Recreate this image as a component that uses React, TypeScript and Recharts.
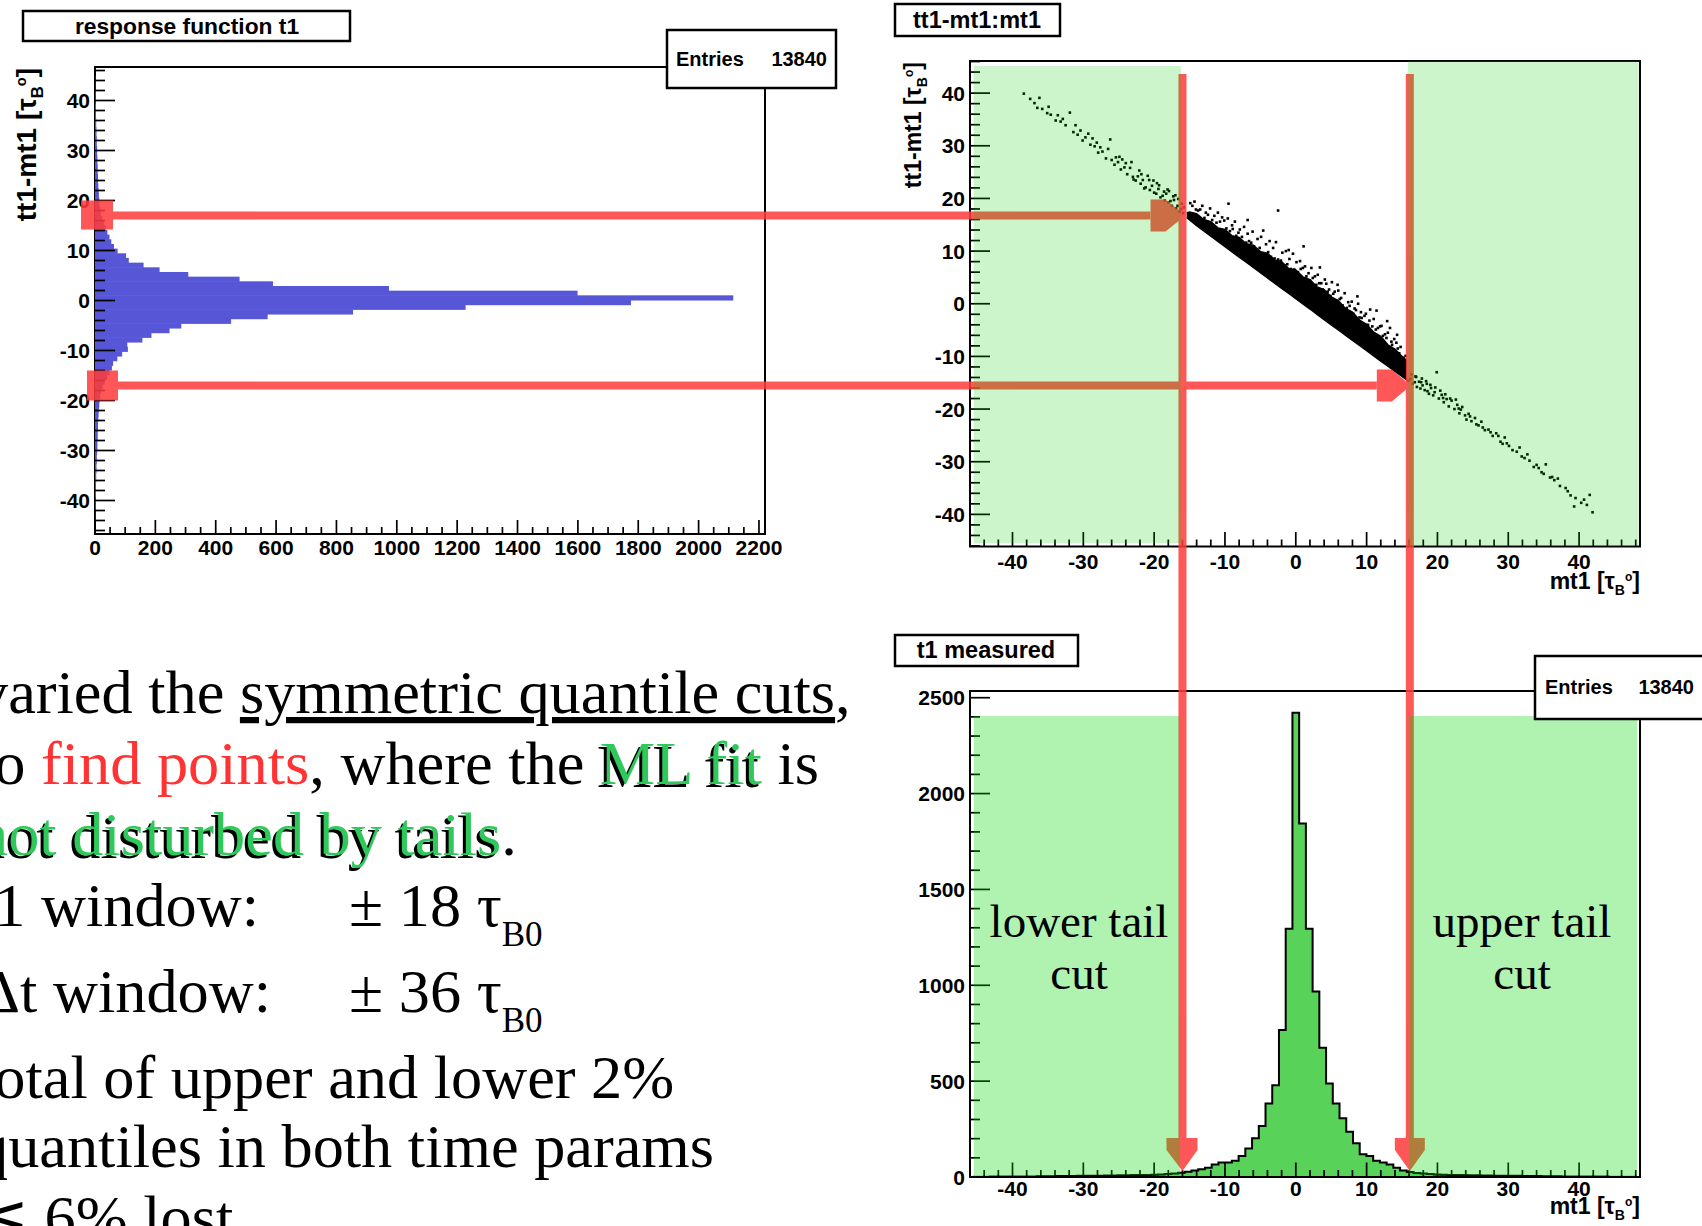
import React from 'react';
import { ComposedChart, Bar, Area, Scatter, XAxis, YAxis, ReferenceArea } from 'recharts';

// ---------- response function t1 : counts of (tt1 - mt1), bins of 0.934 over [-46.7, 46.7]
const RESP_RANGE: [number, number] = [-46.7, 46.7];
const RESP_BIN_WIDTH = 0.934;
// counts walking outward from zero
const respBelowZero = [
  1776, 1228, 855, 572, 451, 286, 247, 187, 157, 107,
  109, 90, 74, 60, 56, 48, 40, 32, 25, 20,
  17, 15, 14, 13, 12, 11, 10, 10, 9, 9,
  8, 8, 7, 6, 6, 5, 5, 4, 4, 3,
  3, 3, 2, 2, 2, 1, 1, 1, 0, 0,
];
const respAboveZero = [
  2115, 1599, 974, 590, 479, 309, 214, 161, 112, 103,
  75, 63, 54, 48, 41, 35, 30, 24, 20, 17,
  15, 14, 13, 12, 11, 10, 10, 9, 9, 8,
  8, 7, 7, 6, 6, 5, 5, 4, 4, 3,
  3, 3, 2, 2, 2, 1, 1, 1, 0, 0,
];
const COUNT_MAX = 2220;
const countMajors = [0, 200, 400, 600, 800, 1000, 1200, 1400, 1600, 1800, 2000, 2200];
const residualMajors = [-40, -30, -20, -10, 0, 10, 20, 30, 40];

// ---------- t1 measured : bins of 0.95 centred on multiples of 0.95
const MEAS_BIN_WIDTH = 0.95;
const measBelowZero = [
  1295, 767, 478, 383, 266, 202, 149, 109, 85, 75,
  75, 65, 48, 40, 34, 28, 22, 18, 15, 13,
  12, 11, 10, 10, 9, 9, 8, 8, 7, 7,
  6, 6, 5, 5, 5, 4, 4, 4, 3, 3,
  3, 2, 2, 2, 2, 1, 1, 1,
];
const measFromZero = [
  2421, 1844, 1295, 968, 674, 488, 383, 307, 236, 176,
  119, 109, 85, 75, 65, 48, 34, 26, 21, 18,
  15, 13, 12, 11, 10, 10, 9, 9, 8, 8,
  7, 7, 6, 6, 5, 5, 5, 4, 4, 4,
  3, 3, 3, 2, 2, 2, 2, 1, 1, 1,
  1, 0,
];
const MEAS_MAX = 2535;
const measMajors = [0, 500, 1000, 1500, 2000, 2500];

// ---------- tt1-mt1 vs mt1
const MT1_RANGE: [number, number] = [-46, 48.6];
const RESID_RANGE: [number, number] = [-46.1, 46.1];
const mt1Majors = [-40, -30, -20, -10, 0, 10, 20, 30, 40];
// dense core of the correlation: lower / upper edge of the solid band
const coreMt1 = [
  -15.4, -15, -14, -13, -12, -11, -10, -9, -8, -7, -6, -5, -4, -3, -2, -1, 0,
  1, 2, 3, 4, 5, 6, 7, 8, 9, 10, 11, 12, 13, 14, 15, 15.7,
];
const coreLow = [
  16.4, 15.9, 14.85, 13.85, 12.85, 11.85, 10.85, 9.85, 8.85, 7.9, 6.9, 5.9, 4.9, 3.9, 2.9, 1.95, 0.95,
  -0.05, -1.0, -2.0, -3.0, -4.0, -4.95, -5.95, -6.95, -7.9, -8.9, -9.9, -10.9, -11.85, -12.85, -13.8, -14.5,
];
const coreHigh = [
  17.3, 17.4, 17.1, 16.0, 15.6, 14.4, 14.1, 12.9, 12.6, 11.4, 11.1, 9.9, 9.6, 8.3, 8.0, 6.7, 6.4,
  5.1, 4.6, 3.2, 2.7, 1.3, 0.6, -0.9, -1.6, -3.1, -3.9, -5.4, -6.2, -7.8, -8.6, -10.0, -10.8,
];
// individual entries around the core and in both tails [mt1, tt1-mt1]
const sparseEntries: [number, number][] = [
  // upper-left tail
  [-38.4, 39.9], [-37.5, 38.9], [-36.9, 38.1], [-36.5, 37.2], [-36.2, 39.1], [-35.8, 37.0],
  [-35.1, 36.2], [-34.9, 37.4], [-34.6, 35.9], [-33.9, 34.8], [-33.6, 35.8], [-33.2, 34.6],
  [-32.9, 35.1], [-32.5, 33.9], [-31.9, 36.3], [-31.4, 32.6], [-31.1, 33.9], [-30.8, 32.1],
  [-30.4, 32.9], [-30.1, 31.0], [-29.7, 31.6], [-29.3, 32.3], [-29.0, 30.2], [-28.7, 31.4],
  [-28.4, 29.9], [-28.1, 30.6], [-27.9, 28.7], [-27.6, 29.7], [-27.3, 28.9], [-26.8, 27.6],
  [-26.5, 29.4], [-26.2, 31.2], [-26.0, 27.3], [-25.6, 26.4], [-25.4, 27.8], [-25.1, 26.9],
  [-24.9, 27.9], [-24.7, 25.5], [-24.5, 27.4], [-24.2, 25.9], [-24.0, 26.7], [-23.8, 24.6],
  [-23.4, 25.8], [-23.2, 26.9], [-23.0, 24.1], [-22.9, 23.6], [-22.6, 23.4], [-22.3, 24.2],
  [-22.1, 25.3], [-21.9, 22.8], [-21.8, 24.6], [-21.6, 23.5], [-21.4, 21.9], [-21.2, 22.1],
  [-20.9, 24.3], [-20.7, 23.5], [-20.6, 21.6], [-20.3, 22.4], [-20.1, 23.4], [-20.0, 21.1],
  [-19.7, 20.9], [-19.6, 22.9], [-19.4, 21.8], [-19.3, 22.5], [-19.1, 20.2], [-18.8, 20.5],
  [-18.6, 21.3], [-18.5, 19.6], [-18.3, 20.9], [-18.1, 21.7], [-18.0, 19.2], [-17.9, 21.4],
  [-17.7, 19.5], [-17.5, 18.6], [-17.3, 20.4], [-17.2, 19.7], [-17.0, 20.6], [-16.9, 18.1],
  [-16.7, 18.6], [-16.6, 19.9], [-16.4, 17.5], [-16.2, 18.0], [-16.1, 19.0], [-15.9, 17.2],
  [-15.8, 18.3],
  // fringe above the dense core
  [-14.9, 19.1], [-14.6, 18.6], [-14.3, 19.4], [-14.1, 17.9], [-13.8, 17.7], [-13.5, 17.9],
  [-13.2, 18.6], [-12.9, 16.3], [-12.7, 17.3], [-12.4, 16.9], [-12.1, 18.1], [-11.8, 15.9],
  [-11.5, 16.7], [-11.2, 15.4], [-11.0, 17.3], [-10.7, 15.6], [-10.4, 16.4], [-10.1, 15.8],
  [-9.8, 14.3], [-9.6, 16.2], [-9.5, 19.0], [-9.3, 13.8], [-9.0, 14.9], [-8.9, 14.2], [-8.6, 15.6],
  [-8.4, 12.9], [-8.1, 13.5], [-7.9, 14.1], [-7.6, 12.7], [-7.3, 14.6], [-7.0, 11.6],
  [-6.8, 13.3], [-6.8, 15.9], [-6.6, 11.9], [-6.3, 11.6], [-6.1, 13.7], [-5.9, 10.9], [-5.6, 10.3],
  [-5.4, 12.3], [-5.1, 10.6], [-4.9, 12.7], [-4.7, 9.6], [-4.6, 13.9], [-4.4, 9.4], [-4.2, 11.3],
  [-3.9, 9.8], [-3.7, 11.9], [-3.5, 8.9], [-3.2, 10.6], [-3.0, 8.6], [-2.8, 11.7],
  [-2.5, 8.4], [-2.5, 17.7], [-2.1, 8.2], [-1.9, 9.7], [-1.6, 7.3], [-1.4, 10.0],
  [-1.2, 7.5], [-1.0, 10.2], [-0.9, 8.5], [-0.7, 6.6], [-0.4, 9.5], [-0.2, 6.5], [0.1, 7.9],
  [0.3, 6.0], [0.6, 8.1], [0.7, 6.6], [1.0, 6.8], [1.1, 10.9], [1.3, 7.1],
  [1.5, 5.2], [1.8, 5.8], [2.0, 4.4], [2.2, 6.8], [2.4, 4.9], [2.7, 5.2],
  [2.9, 3.6], [3.1, 5.5], [3.3, 3.9], [3.4, 6.9], [3.6, 3.9], [3.8, 2.7], [4.1, 4.6],
  [4.3, 3.8], [4.5, 2.3], [4.7, 2.7], [4.9, 1.5], [5.1, 4.1], [5.3, 1.9],
  [5.5, 2.3], [5.7, 0.6], [5.9, 3.6], [6.0, 2.5], [6.2, 0.9], [6.4, 1.1], [6.6, -0.3],
  [6.9, 2.0], [7.2, -0.8], [7.4, 0.3], [7.6, -0.4], [7.9, 0.4], [8.1, -1.9],
  [8.3, -0.9], [8.5, -1.2], [8.7, 1.4], [8.8, 0.0], [9.0, -2.6], [9.2, -1.6], [9.3, -2.7],
  [9.7, -2.3], [9.9, -1.9], [10.2, -4.0], [10.4, -3.2], [10.5, -1.1], [10.8, -4.3],
  [11.0, -2.9], [11.3, -4.9], [11.4, -1.3], [11.6, -4.6], [11.9, -4.3], [12.1, -4.2], [12.3, -6.1],
  [12.6, -5.8], [12.8, -6.5], [12.9, -3.3], [13.0, -5.5], [13.3, -4.6], [13.5, -7.2], [13.6, -7.8],
  [13.9, -6.7], [14.0, -9.3], [14.2, -7.4], [14.3, -5.9], [14.4, -8.5], [14.6, -9.4], [14.8, -8.2],
  [15.0, -10.5], [15.2, -10.3], [15.3, -11.6], [15.5, -9.9],
  // lower-right tail
  [15.9, -14.6], [16.2, -14.3], [16.3, -13.4], [16.5, -15.2], [16.8, -14.9], [16.9, -13.8],
  [17.0, -13.9], [17.1, -15.8], [17.4, -14.8], [17.6, -16.1], [17.7, -14.9], [17.8, -14.2],
  [17.9, -15.5], [18.2, -16.4], [18.4, -14.7], [18.5, -15.2], [18.6, -16.6], [18.8, -17.1],
  [19.0, -15.4], [19.1, -16.0], [19.4, -17.4], [19.6, -16.8], [19.7, -15.9], [19.9, -13.0],
  [20.2, -18.0], [20.4, -16.5], [20.6, -17.3], [20.8, -17.9], [20.9, -18.7], [21.1, -17.2],
  [21.3, -18.1], [21.6, -19.5], [21.8, -18.0], [22.0, -18.4], [22.4, -20.0], [22.6, -18.2],
  [22.8, -19.2], [23.0, -19.9], [23.1, -20.8], [23.3, -20.1], [23.5, -19.6], [23.9, -21.2],
  [24.1, -22.0], [24.4, -20.9], [24.6, -21.4], [24.8, -22.3], [25.3, -21.7], [25.5, -22.9],
  [25.8, -23.1], [26.2, -22.4], [26.4, -23.5], [26.7, -24.0], [27.2, -23.9], [27.5, -24.4],
  [27.8, -25.1], [28.3, -24.6], [28.6, -25.1], [28.9, -26.2], [29.2, -26.6], [29.5, -25.4],
  [29.8, -26.5], [30.1, -27.0], [30.6, -27.8], [31.2, -28.1], [31.6, -27.3], [31.9, -29.0],
  [32.3, -29.3], [32.7, -28.6], [33.0, -29.8], [33.6, -31.0], [34.0, -30.6], [34.3, -31.2],
  [34.7, -32.0], [35.0, -32.3], [35.3, -30.5], [35.9, -33.0], [36.2, -32.9], [36.5, -33.5],
  [37.0, -33.2], [37.3, -34.6], [38.1, -35.0], [38.4, -35.6], [38.8, -36.4], [39.3, -38.5],
  [39.5, -36.9], [40.3, -37.8], [40.7, -37.2], [41.1, -38.2], [41.5, -36.3], [41.9, -39.6],
];

// cut positions marked on the figure
const MT1_CUTS = [-16.0, 16.1];
const RESID_CUTS = [17.0, -17.0];

// ---------- layout constants (page pixels)
const FONT_SANS = "'Liberation Sans', Arial, Helvetica, sans-serif";
const FONT_SERIF = "'Liberation Serif', 'Times New Roman', Times, serif";
const LABEL_SIZE = 21;

const respData = [
  ...respBelowZero.map((c, j) => ({ y: -(j + 0.5) * RESP_BIN_WIDTH, count: c })).reverse(),
  ...respAboveZero.map((c, j) => ({ y: (j + 0.5) * RESP_BIN_WIDTH, count: c })),
];
const measData = [
  ...measBelowZero.map((c, j) => ({ x: -(j + 1) * MEAS_BIN_WIDTH, count: c })).reverse(),
  ...measFromZero.map((c, j) => ({ x: j * MEAS_BIN_WIDTH, count: c })),
];
const coreData = coreMt1.map((x, i) => ({ x, band: [coreLow[i], coreHigh[i]] }));
const sparseData = sparseEntries.map(([x, y]) => ({ x, y }));

function withMinors(from: number, to: number, step: number, majors: number[]) {
  const out: number[] = [...majors];
  const n = Math.round((to - from) / step);
  for (let i = 0; i <= n; i++) {
    const v = Math.round((from + i * step) * 1000) / 1000;
    if (!majors.some((m) => Math.abs(m - v) < 1e-6)) out.push(v);
  }
  return out.sort((a, b) => a - b);
}

const isMajor = (v: number, majors: number[]) => majors.some((m) => Math.abs(m - v) < 1e-6);

const labelStyle: React.CSSProperties = {
  fontFamily: FONT_SANS,
  fontWeight: 700,
  fontSize: LABEL_SIZE,
};

// ROOT-like ticks: drawn inward from the axis, long for labelled values
const bottomTick = (majors: number[], majorLen: number, minorLen: number, labelDy: number) => (props: any) => {
  const { x, y, payload } = props;
  const v = payload.value;
  const major = isMajor(v, majors);
  return (
    <g>
      <line x1={x} x2={x} y1={y} y2={y - (major ? majorLen : minorLen)} stroke="#000" strokeWidth={1.7} />
      {major && (
        <text x={x} y={y + labelDy} textAnchor="middle" fill="#000" style={labelStyle}>
          {String(v)}
        </text>
      )}
    </g>
  );
};

const leftTick = (majors: number[], majorLen: number, minorLen: number) => (props: any) => {
  const { x, y, payload } = props;
  const v = payload.value;
  const major = isMajor(v, majors);
  return (
    <g>
      <line x1={x} x2={x + (major ? majorLen : minorLen)} y1={y} y2={y} stroke="#000" strokeWidth={1.7} />
      {major && (
        <text x={x - 5} y={y + 7.5} textAnchor="end" fill="#000" style={labelStyle}>
          {String(v)}
        </text>
      )}
    </g>
  );
};

// histogram bin drawn slightly taller so neighbouring bins join without seams
const HistBin = (p: any) => {
  if (!p.width || p.width <= 0) return <g />;
  return <rect x={p.x} y={p.y - 0.5} width={p.width} height={p.height + 1} fill="#5656d6" />;
};

function ResponseChart() {
  return (
    <ComposedChart
      width={800}
      height={580}
      data={respData}
      layout="vertical"
      margin={{ top: 67, right: 35, bottom: 0, left: 0 }}
    >
      <XAxis
        type="number"
        domain={[0, COUNT_MAX]}
        allowDataOverflow
        ticks={withMinors(0, 2200, 50, countMajors)}
        interval={0}
        tickSize={0}
        tickMargin={0}
        axisLine={false}
        tickLine={false}
        height={46}
        tick={bottomTick(countMajors, 14, 7, 21)}
      />
      <YAxis
        type="number"
        dataKey="y"
        domain={RESP_RANGE}
        allowDataOverflow
        reversed
        ticks={withMinors(-46, 46, 2, residualMajors)}
        interval={0}
        tickSize={0}
        tickMargin={0}
        axisLine={false}
        tickLine={false}
        width={95}
        tick={leftTick(residualMajors, 20, 10)}
      />
      <Bar dataKey="count" fill="#5656d6" barSize={4.7} shape={HistBin} isAnimationActive={false} />
      <ReferenceArea
        x1={0}
        x2={COUNT_MAX}
        y1={RESP_RANGE[0]}
        y2={RESP_RANGE[1]}
        fill="none"
        stroke="#000"
        strokeWidth={2}
        ifOverflow="visible"
      />
    </ComposedChart>
  );
}

function CorrelationChart() {
  return (
    <ComposedChart width={800} height={600} data={coreData} margin={{ top: 61, right: 40, bottom: 0, left: 0 }}>
      <XAxis
        type="number"
        dataKey="x"
        domain={MT1_RANGE}
        allowDataOverflow
        ticks={withMinors(-46, 48, 2, mt1Majors)}
        interval={0}
        tickSize={0}
        tickMargin={0}
        axisLine={false}
        tickLine={false}
        height={53.5}
        tick={bottomTick(mt1Majors, 14.5, 7, 22)}
      />
      <YAxis
        type="number"
        dataKey="y"
        domain={RESID_RANGE}
        allowDataOverflow
        ticks={withMinors(-46, 46, 2, residualMajors)}
        interval={0}
        tickSize={0}
        tickMargin={0}
        axisLine={false}
        tickLine={false}
        width={90}
        tick={leftTick(residualMajors, 20, 10)}
      />
      <Area dataKey="band" type="linear" fill="#000" fillOpacity={1} stroke="#000" strokeWidth={1.5} isAnimationActive={false} />
      <Scatter
        data={sparseData}
        isAnimationActive={false}
        shape={(p: any) => <rect x={p.cx - 1.3} y={p.cy - 1.3} width={2.6} height={2.6} fill="#000" />}
      />
      <ReferenceArea
        x1={MT1_RANGE[0]}
        x2={MT1_RANGE[1]}
        y1={RESID_RANGE[0]}
        y2={RESID_RANGE[1]}
        fill="none"
        stroke="#000"
        strokeWidth={2}
        ifOverflow="visible"
      />
    </ComposedChart>
  );
}

function MeasuredChart() {
  return (
    <ComposedChart width={800} height={600} data={measData} margin={{ top: 61, right: 60, bottom: 0, left: 0 }}>
      <XAxis
        type="number"
        dataKey="x"
        domain={MT1_RANGE}
        allowDataOverflow
        ticks={withMinors(-46, 48, 2, mt1Majors)}
        interval={0}
        tickSize={0}
        tickMargin={0}
        axisLine={false}
        tickLine={false}
        height={53}
        tick={bottomTick(mt1Majors, 14.5, 7, 19)}
      />
      <YAxis
        type="number"
        domain={[0, MEAS_MAX]}
        allowDataOverflow
        ticks={withMinors(0, 2500, 100, measMajors)}
        interval={0}
        tickSize={0}
        tickMargin={0}
        axisLine={false}
        tickLine={false}
        width={70}
        tick={leftTick(measMajors, 20, 10)}
      />
      <Area
        dataKey="count"
        type="step"
        fill="#58d258"
        fillOpacity={1}
        stroke="#000"
        strokeWidth={2}
        isAnimationActive={false}
      />
      <ReferenceArea
        x1={MT1_RANGE[0]}
        x2={MT1_RANGE[1]}
        y1={0}
        y2={MEAS_MAX}
        fill="none"
        stroke="#000"
        strokeWidth={2}
        ifOverflow="visible"
      />
    </ComposedChart>
  );
}

// pixel helpers for the annotation layer, using the same plot geometry as the charts
const MT1_PX = { left: 970, right: 1640 };
const mt1Px = (v: number) =>
  MT1_PX.left + ((v - MT1_RANGE[0]) / (MT1_RANGE[1] - MT1_RANGE[0])) * (MT1_PX.right - MT1_PX.left);
const RESP_PX = { top: 67, bottom: 534 };
const respPx = (v: number) =>
  RESP_PX.top + ((RESP_RANGE[1] - v) / (RESP_RANGE[1] - RESP_RANGE[0])) * (RESP_PX.bottom - RESP_PX.top);

const titleStyle: React.CSSProperties = { fontFamily: FONT_SANS, fontWeight: 700, fontSize: 23.5 };
const statStyle: React.CSSProperties = { fontFamily: FONT_SANS, fontWeight: 700, fontSize: 20 };
const axisTitleStyle: React.CSSProperties = { fontFamily: FONT_SANS, fontWeight: 700, fontSize: 23 };

function TauUnit({ k = 1 }: { k?: number }) {
  return (
    <>
      [τ<tspan dy={6 * k} fontSize={14 * k}>B</tspan>
      <tspan dy={-14 * k} fontSize={12 * k}>o</tspan>
      <tspan dy={8 * k}>]</tspan>
    </>
  );
}

function Annotations() {
  const xLo = mt1Px(MT1_CUTS[0]);
  const xHi = mt1Px(MT1_CUTS[1]);
  const yUp = respPx(RESID_CUTS[0]);
  const yDn = respPx(RESID_CUTS[1]);
  const half = 4;
  return (
    <svg
      width={1702}
      height={1226}
      style={{ position: 'absolute', left: 0, top: 0, pointerEvents: 'none' }}
    >
      {/* cut arrows */}
      <g opacity={0.86} fill="rgb(255,60,60)">
        <rect x={81} y={yUp - 15} width={32} height={29} />
        <rect x={113} y={yUp - half} width={xLo - 32 - 113} height={half * 2} />
        <polygon
          points={`${xLo - 32},${yUp - 16} ${xLo - 17},${yUp - 16} ${xLo + 3},${yUp} ${xLo - 17},${yUp + 16} ${xLo - 32},${yUp + 16}`}
        />
        <rect x={87} y={yDn - 15} width={31} height={30} />
        <rect x={118} y={yDn - half} width={xHi - 33 - 118} height={half * 2} />
        <polygon
          points={`${xHi - 33},${yDn - 16} ${xHi - 18},${yDn - 16} ${xHi + 1},${yDn} ${xHi - 18},${yDn + 16} ${xHi - 33},${yDn + 16}`}
        />
        <rect x={xLo - half} y={74} width={half * 2} height={1064} />
        <polygon points={`${xLo - 16},1138 ${xLo + 15},1138 ${xLo + 15},1150 ${xLo},1171 ${xLo - 16},1150`} />
        <rect x={xHi - half} y={74} width={half * 2} height={1064} />
        <polygon points={`${xHi - 15},1138 ${xHi + 15},1138 ${xHi + 15},1150 ${xHi},1171 ${xHi - 15},1150`} />
      </g>

      {/* excluded tails */}
      <g fill="rgba(0,205,0,0.2)">
        <rect x={mt1Px(-45.45)} y={66} width={xLo - 1.5 - mt1Px(-45.45)} height={477} />
        <rect x={xHi - 2} y={61} width={mt1Px(48.4) - xHi + 2} height={485} />
      </g>
      <g fill="rgba(0,213,0,0.31)">
        <rect x={mt1Px(-45.45)} y={716} width={xLo - 2.5 - mt1Px(-45.45)} height={459} />
        <rect x={xHi - 1} y={716} width={mt1Px(48.2) - xHi + 1} height={459} />
      </g>

      <g fontFamily={FONT_SERIF} fontSize={47} fill="#000" textAnchor="middle">
        <text x={1079} y={937}>lower tail</text>
        <text x={1079} y={989}>cut</text>
        <text x={1522} y={937}>upper tail</text>
        <text x={1522} y={989}>cut</text>
      </g>

      {/* titles and statistics boxes */}
      <rect x={23} y={11} width={327} height={30} fill="#fff" stroke="#000" strokeWidth={2.5} />
      <text x={187} y={34} textAnchor="middle" style={{ ...titleStyle, fontSize: 22.8 }}>
        response function t1
      </text>
      <rect x={667} y={30} width={169} height={58} fill="#fff" stroke="#000" strokeWidth={2.5} />
      <text x={676} y={66} style={statStyle}>Entries</text>
      <text x={827} y={66} textAnchor="end" style={statStyle}>13840</text>

      <rect x={895} y={4} width={165} height={32} fill="#fff" stroke="#000" strokeWidth={2.5} />
      <text x={977} y={28} textAnchor="middle" style={titleStyle}>tt1-mt1:mt1</text>

      <rect x={895} y={635} width={183} height={31} fill="#fff" stroke="#000" strokeWidth={2.5} />
      <text x={986} y={658} textAnchor="middle" style={titleStyle}>t1 measured</text>
      <rect x={1535} y={656} width={180} height={63} fill="#fff" stroke="#000" strokeWidth={2.5} />
      <text x={1545} y={694} style={statStyle}>Entries</text>
      <text x={1694} y={694} textAnchor="end" style={statStyle}>13840</text>

      {/* axis titles */}
      <text
        transform="translate(36,68) rotate(-90)"
        textAnchor="end"
        style={{ ...axisTitleStyle, fontSize: 28 }}
      >
        tt1-mt1 <TauUnit k={1.2} />
      </text>
      <text transform="translate(921,62) rotate(-90)" textAnchor="end" style={axisTitleStyle}>
        tt1-mt1 <TauUnit />
      </text>
      <text x={1640} y={589} textAnchor="end" style={axisTitleStyle}>
        mt1 <TauUnit />
      </text>
      <text x={1640} y={1214} textAnchor="end" style={axisTitleStyle}>
        mt1 <TauUnit />
      </text>
    </svg>
  );
}

const RED_TEXT = '#ff3333';
const GREEN_TEXT = '#2fc85a';

function Bullets() {
  const s: React.CSSProperties = { whiteSpace: 'pre' };
  const x0 = -23;
  const shadow = 'translate(-3,2.5)';
  return (
    <svg
      width={1702}
      height={1226}
      style={{ position: 'absolute', left: 0, top: 0, pointerEvents: 'none' }}
    >
      <g fontFamily={FONT_SERIF} fontSize={62.3} fill="#000" style={s}>
        <text x={x0} y={713} style={s}>
          varied the <tspan style={{ textDecoration: 'underline' }}>symmetric quantile cuts</tspan>,
        </text>

        <text x={x0} y={784} transform={shadow} style={s}>
          <tspan fill="transparent">to find points, where the </tspan>
          <tspan fill="#000">ML fit</tspan>
        </text>
        <text x={x0} y={784} style={s}>
          to <tspan fill={RED_TEXT}>find points</tspan>, where the <tspan fill={GREEN_TEXT}>ML fit</tspan> is
        </text>

        <text x={x0} y={855} transform={shadow} style={s}>not disturbed by tails</text>
        <text x={x0} y={855} style={s}>
          <tspan fill={GREEN_TEXT}>not disturbed by tails</tspan>.
        </text>

        <text x={x0} y={926} style={s}>t1 window:</text>
        <text x={349} y={926} style={s}>
          ± 18 τ<tspan dy={20} fontSize={35}>B0</tspan>
        </text>

        <text x={-20} y={1012} style={s}>Δt window:</text>
        <text x={349} y={1012} style={s}>
          ± 36 τ<tspan dy={20} fontSize={35}>B0</tspan>
        </text>

        <text x={x0} y={1098} style={s}>total of upper and lower 2%</text>
        <text x={x0} y={1167} style={s}>quantiles in both time params</text>
        <text x={x0} y={1238} style={s}>≲ 6% lost</text>
      </g>
    </svg>
  );
}

export default function App() {
  return (
    <div
      style={{
        position: 'absolute',
        left: 0,
        top: 0,
        width: 1702,
        height: 1226,
        overflow: 'hidden',
        background: '#fff',
      }}
    >
      <div style={{ position: 'absolute', left: 0, top: 0 }}>
        <ResponseChart />
      </div>
      <div style={{ position: 'absolute', left: 880, top: 0 }}>
        <CorrelationChart />
      </div>
      <div style={{ position: 'absolute', left: 900, top: 630 }}>
        <MeasuredChart />
      </div>
      <Bullets />
      <Annotations />
    </div>
  );
}
